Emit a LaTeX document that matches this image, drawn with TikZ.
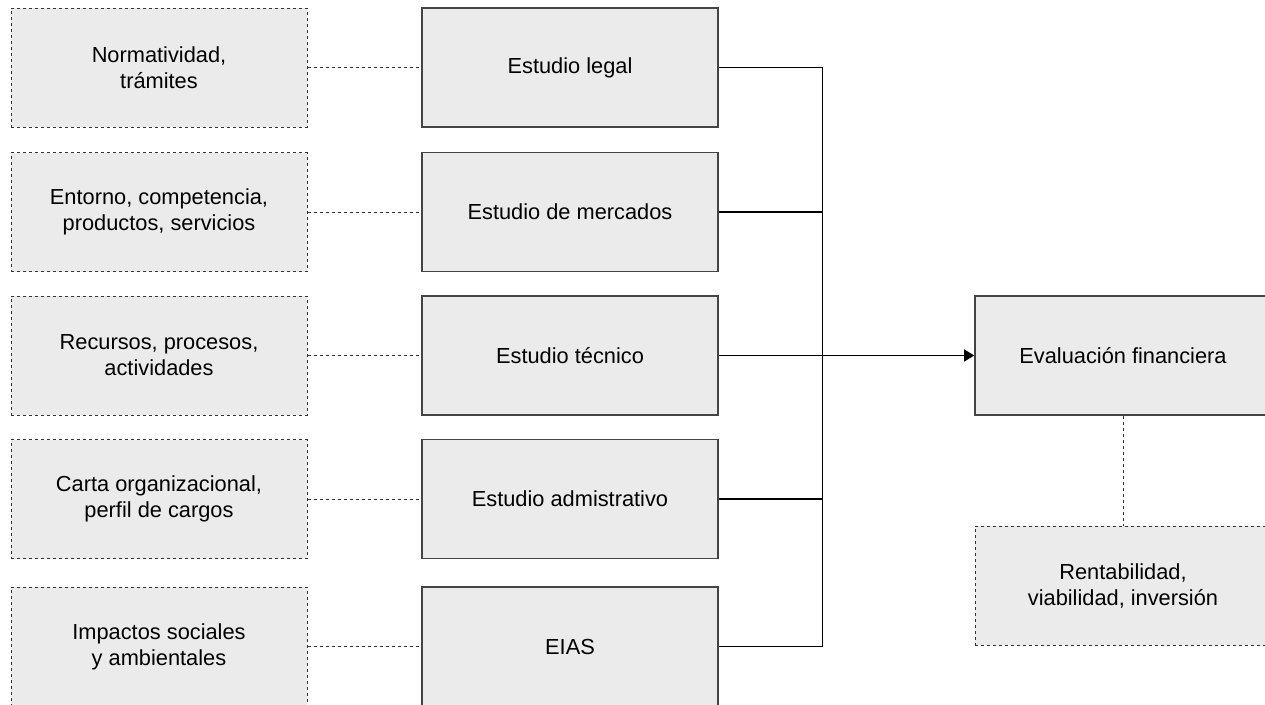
\documentclass[tikz,border=0pt]{standalone}
\usepackage{fontspec}
\setmainfont{Liberation Sans}
\usetikzlibrary{arrows.meta}
\definecolor{boxfill}{HTML}{EBEBEB}
\definecolor{boxline}{HTML}{444444}
\definecolor{dashline}{HTML}{333333}
\tikzset{
  base/.style={rectangle, fill=boxfill, minimum width=296pt, minimum height=119pt,
    inner sep=0pt, align=center, font=\fontsize{21.8}{26}\selectfont},
  detail/.style={base, draw=dashline, line width=1pt, dash pattern=on 3pt off 3pt},
  study/.style={base, draw=boxline, line width=1.6pt},
  link/.style={draw=dashline, line width=1pt, dash pattern=on 3pt off 3pt},
  bus/.style={draw=black, line width=1.2pt},
}
\begin{document}
\begin{tikzpicture}[x=1pt,y=-1pt]
\useasboundingbox (0,0) rectangle (1265,704);
% left detail boxes
\node[detail] (d1) at (159,67.5) {Normatividad,\\trámites};
\node[detail] (d2) at (159,212) {Entorno, competencia,\\productos, servicios};
\node[detail] (d3) at (159,355.5) {Recursos, procesos,\\actividades};
\node[detail] (d4) at (159,499) {Carta organizacional,\\perfil de cargos};
\node[detail] (d5) at (159,646.5) {Impactos sociales\\y ambientales};
% studies
\node[study] (s1) at (570,67.5) {Estudio legal};
\node[study] (s2) at (570,212) {Estudio de mercados};
\node[study] (s3) at (570,355.5) {Estudio técnico};
\node[study] (s4) at (570,499) {Estudio admistrativo};
\node[study] (s5) at (570,646.5) {EIAS};
% evaluation
\node[study] (ev) at (1123,355.5) {Evaluación financiera};
\node[detail] (rv) at (1123,585.5) {Rentabilidad,\\viabilidad, inversión};
% dashed links
\foreach \i in {1,...,5} { \draw[link] (d\i.east) -- (s\i.west); }
\draw[link] (ev.south) -- (rv.north);
% bus
\coordinate (bt) at (822.5,67.5);
\coordinate (bb) at (822.5,646.5);
\draw[bus] (s1.east) -- (bt) -- (bb) -- (s5.east);
\draw[bus] (s2.east) -- (s2.east -| bt);
\draw[bus] (s4.east) -- (s4.east -| bt);
\draw[bus, -{Triangle[length=10pt,width=12pt]}] (s3.east) -- (ev.west);
\end{tikzpicture}
\end{document}
